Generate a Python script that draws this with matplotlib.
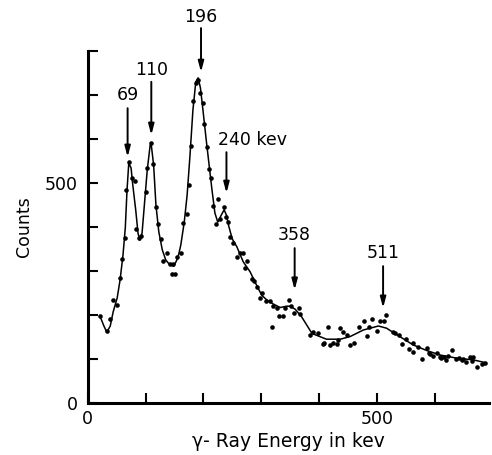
import matplotlib.pyplot as plt

# measured counts (keV, counts)
energy = [22, 33, 39, 43, 51, 56, 60, 65, 66, 71, 76, 81, 84, 89, 92, 100, 103, 109,
          113, 118, 122, 126, 131, 138, 142, 147, 145, 151, 155, 161, 164, 171, 176,
          179, 183, 187, 191, 194, 199, 201, 206, 210, 213, 217, 222, 226, 228, 235,
          239, 243, 247, 251, 259, 263, 268, 272, 276, 284, 288, 293, 298, 302, 308,
          315, 319, 321, 327, 331, 338, 341, 348, 352, 357, 365, 368, 385, 389, 399,
          407, 409, 415, 419, 424, 431, 433, 437, 441, 448, 453, 460, 470, 478, 484,
          486, 491, 500, 506, 513, 516, 529, 532, 539, 543, 551, 555, 562, 563, 572,
          578, 587, 590, 593, 598, 604, 610, 612, 616, 620, 624, 630, 638, 643, 647,
          650, 654, 661, 665, 667, 674, 682, 687]
counts = [198, 163, 191, 233, 222, 284, 327, 376, 483, 548, 511, 505, 395, 374, 380,
          480, 534, 592, 543, 446, 406, 373, 322, 341, 317, 316, 294, 294, 332, 340,
          408, 430, 495, 584, 687, 727, 734, 704, 682, 634, 581, 531, 511, 448, 407,
          464, 418, 446, 423, 412, 378, 363, 332, 342, 340, 306, 323, 282, 277, 263,
          239, 249, 232, 232, 172, 220, 216, 198, 198, 215, 233, 220, 204, 215, 202,
          155, 162, 158, 134, 137, 172, 132, 136, 134, 143, 170, 162, 155, 132, 137,
          173, 187, 152, 172, 190, 164, 186, 186, 200, 162, 160, 155, 134, 145, 122,
          137, 117, 128, 99, 124, 113, 111, 107, 113, 105, 102, 105, 98, 107, 120,
          99, 103, 98, 100, 94, 105, 95, 105, 82, 89, 92]

# smooth fitted curve
curve_e = [21, 28, 33, 39, 44, 51, 56, 61, 65, 68, 71, 75, 78, 83, 87, 90, 94, 98,
           103, 108, 110, 114, 118, 123, 129, 135, 142, 149, 156, 161, 167, 172, 177,
           182, 187, 191, 195, 199, 205, 210, 215, 220, 225, 231, 236, 240, 244, 250,
           258, 269, 281, 292, 301, 310, 321, 333, 344, 350, 359, 370, 388, 413, 437,
           454, 477, 503, 517, 535, 563, 587, 610, 638, 667, 687]
curve_c = [198, 175, 161, 175, 207, 239, 280, 336, 398, 484, 545, 534, 495, 439, 386,
           370, 386, 450, 530, 586, 586, 541, 450, 389, 348, 325, 314, 311, 330, 359,
           411, 473, 564, 666, 730, 739, 716, 670, 598, 541, 484, 432, 411, 427, 439,
           427, 402, 373, 355, 321, 298, 268, 245, 234, 225, 217, 220, 220, 213, 196,
           158, 145, 145, 151, 166, 175, 170, 155, 132, 119, 109, 102, 98, 92]

# peak markers: label, energy, arrow tip, arrow tail, label height
peak_labels = ["69", "110", "196", "240 kev", "358", "511"]
peak_energy = [69, 110, 196, 240, 358, 511]
arrow_tip = [559, 609, 752, 477, 257, 216]
arrow_tail = [670, 730, 852, 570, 352, 311]
label_y = [700, 757, 877, 598, 382, 341]

plt.rcParams['font.family'] = 'DejaVu Sans'
fig = plt.figure(figsize=(4.92, 4.55), dpi=100)
ax = fig.add_axes([0.1783, 0.1143, 0.8165, 0.7736])

ax.plot(curve_e, curve_c, color='black', lw=1.1)
ax.plot(energy, counts, 'o', color='black', ms=3.3, mec='none')

for lab, e, tip, tail, ly in zip(peak_labels, peak_energy, arrow_tip, arrow_tail, label_y):
    ax.annotate('', xy=(e, tip), xytext=(e, tail), annotation_clip=False,
                arrowprops=dict(arrowstyle='-|>,head_width=0.12,head_length=0.45',
                                color='black', lw=1.4, shrinkA=0, shrinkB=0,
                                mutation_scale=14))
    if lab.endswith('kev'):
        ax.text(e - 14, ly, lab, ha='left', va='center', fontsize=12.5)
    else:
        ax.text(e, ly, lab, ha='center', va='center', fontsize=12.5)

ax.set_xlim(0, 695)
ax.set_ylim(0, 800)
ax.spines['top'].set_visible(False)
ax.spines['right'].set_visible(False)
ax.spines['left'].set_linewidth(2.2)
ax.spines['bottom'].set_linewidth(2.2)

ax.set_xticks(range(0, 601, 100))
ax.set_xticklabels(['0', '', '', '', '', '500', ''])
ax.set_yticks(range(0, 801, 100))
ax.set_yticklabels(['0', '', '', '', '', '500', '', '', ''])
ax.tick_params(direction='in', length=7.5, width=1.5, labelsize=12.5)
ax.tick_params(axis='x', pad=5)
ax.tick_params(axis='y', pad=7)

ax.set_ylabel('Counts', fontsize=12.5, labelpad=9)
ax.set_xlabel('γ- Ray Energy in kev', fontsize=13.5, labelpad=3)

fig.savefig('out.png', dpi=100)
